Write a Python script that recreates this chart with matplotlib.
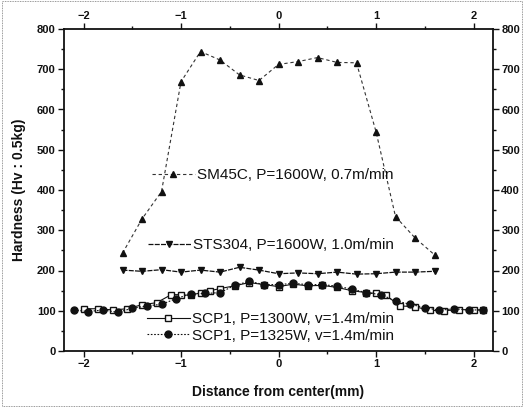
import matplotlib
matplotlib.use("Agg")
import matplotlib.pyplot as plt
from matplotlib.ticker import MultipleLocator
from matplotlib.patches import Rectangle

plt.rcParams['font.family'] = ['Liberation Sans', 'DejaVu Sans']

# ---- data ----
x_sm45c = [-1.6, -1.4, -1.2, -1.0, -0.8, -0.6, -0.4, -0.2, 0.0, 0.2, 0.4, 0.6, 0.8, 1.0, 1.2, 1.4, 1.6]
y_sm45c = [243, 328, 396, 669, 744, 723, 686, 672, 712, 719, 729, 717, 716, 545, 334, 281, 239]

x_sts304 = [-1.6, -1.4, -1.2, -1.0, -0.8, -0.6, -0.4, -0.2, 0.0, 0.2, 0.4, 0.6, 0.8, 1.0, 1.2, 1.4, 1.6]
y_sts304 = [201, 198, 202, 196, 201, 196, 208, 201, 192, 194, 192, 196, 191, 192, 196, 196, 198]

x_scp1300 = [-2.0, -1.85, -1.7, -1.55, -1.4, -1.25, -1.1, -1.0, -0.9, -0.8, -0.7, -0.6, -0.45, -0.3,
             -0.15, 0.0, 0.15, 0.3, 0.45, 0.6, 0.75, 0.9, 1.0, 1.1, 1.25, 1.4, 1.55, 1.7, 1.85, 2.0, 2.1]
y_scp1300 = [105, 105, 102, 105, 115, 120, 140, 140, 138, 145, 150, 155, 162, 170,
             165, 160, 166, 162, 163, 158, 150, 145, 143, 138, 112, 110, 101, 100, 103, 102, 102]

x_scp1325 = [-2.1, -1.95, -1.8, -1.65, -1.5, -1.35, -1.2, -1.05, -0.9, -0.75, -0.6, -0.45, -0.3, -0.15,
             0.0, 0.15, 0.3, 0.45, 0.6, 0.75, 0.9, 1.05, 1.2, 1.35, 1.5, 1.65, 1.8, 1.95, 2.1]
y_scp1325 = [102, 98, 102, 96, 106, 112, 116, 130, 142, 143, 145, 163, 173, 165,
             165, 168, 165, 165, 161, 154, 145, 140, 125, 116, 108, 101, 105, 102, 102]

labels = ["SM45C, P=1600W, 0.7m/min", "STS304, P=1600W, 1.0m/min",
          "SCP1, P=1300W, v=1.4m/min", "SCP1, P=1325W, v=1.4m/min"]

xticks = [-2, -1, 0, 1, 2]
yticks = [0, 100, 200, 300, 400, 500, 600, 700, 800]

# ---- figure ----
fig = plt.figure(figsize=(5.24, 4.07), dpi=100)
ax = fig.add_axes([64/524, 56/407, 429/524, 322/407])

c = '#111111'
l1, = ax.plot(x_sm45c, y_sm45c, linestyle=(0, (3, 2.5)), color='#333333', lw=0.8,
              marker='^', ms=4, mfc=c, mec=c)
l2, = ax.plot(x_sts304, y_sts304, linestyle=(0, (4, 1)), color=c, lw=0.9,
              marker='v', ms=4.5, mfc=c, mec=c)
l3, = ax.plot(x_scp1300, y_scp1300, linestyle='-', color=c, lw=0.8,
              marker='s', ms=5, mfc='white', mec=c, mew=1.0)
l4, = ax.plot(x_scp1325, y_scp1325, linestyle=(0, (1.5, 1.5)), color=c, lw=0.8,
              marker='o', ms=5, mfc=c, mec=c)

ax.set_xlim(-2.2, 2.2)
ax.set_ylim(0, 800)
ax.set_xticks(xticks)
ax.set_yticks(yticks)
ax.xaxis.set_minor_locator(MultipleLocator(0.5))
ax.yaxis.set_minor_locator(MultipleLocator(50))

ax.tick_params(which='both', top=True, right=True, labeltop=True, labelright=True,
               direction='out', labelsize=8, width=1.0, color=c, labelcolor=c)
ax.tick_params(which='major', length=4, pad=2)
ax.tick_params(which='minor', length=2.5)
for lab in ax.get_xticklabels() + ax.get_yticklabels():
    lab.set_fontweight('bold')
for side in ax.spines.values():
    side.set_linewidth(1.3)
    side.set_color(c)

ax.set_xlabel("Distance from center(mm)", fontsize=10, fontweight='bold', labelpad=11, color=c)
ax.set_ylabel("Hardness (Hv : 0.5kg)", fontsize=10, fontweight='bold', labelpad=8, color=c)

kw = dict(frameon=False, fontsize=11, handlelength=2.8, handletextpad=0.15,
          borderpad=0, borderaxespad=0, loc='center left', labelcolor=c)
leg1 = ax.legend([l1], [labels[0]], bbox_to_anchor=(0.205, 0.547), **kw)
ax.add_artist(leg1)
leg2 = ax.legend([l2], [labels[1]], bbox_to_anchor=(0.196, 0.329), **kw)
ax.add_artist(leg2)
leg3 = ax.legend([l3, l4], [labels[2], labels[3]], bbox_to_anchor=(0.193, 0.073),
                 labelspacing=0.15, **kw)

fig.patches.append(Rectangle((0.003, 0.003), 0.994, 0.994, transform=fig.transFigure,
                             fill=False, linestyle=(0, (1, 1)), lw=0.6, edgecolor='#777777'))

fig.savefig("out.png", dpi=100)
